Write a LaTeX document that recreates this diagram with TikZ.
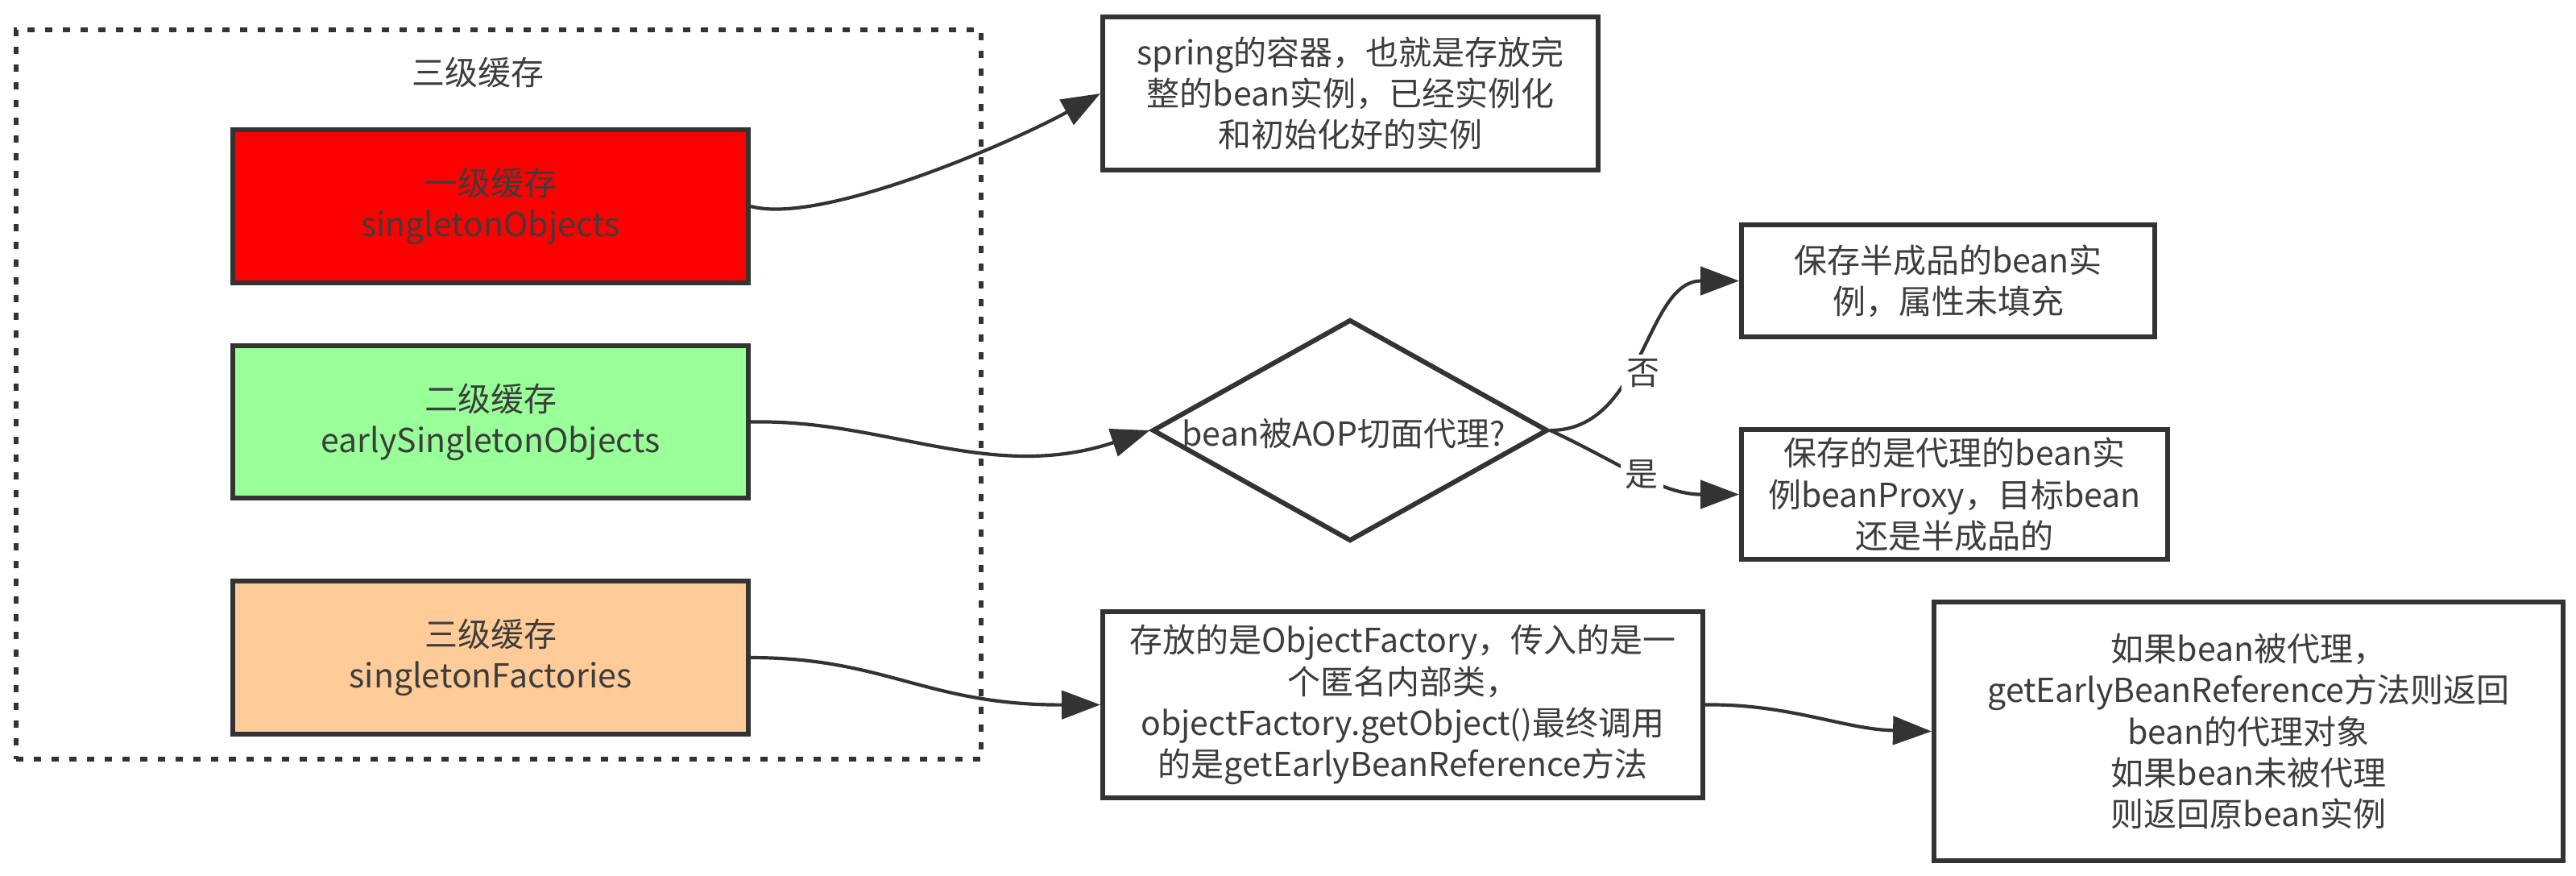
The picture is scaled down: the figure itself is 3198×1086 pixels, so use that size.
\documentclass[tikz,border=0pt]{standalone}
\usepackage{fontspec}
\setmainfont{Noto Sans CJK SC}
\usetikzlibrary{shapes.geometric,arrows.meta}
\definecolor{ink}{HTML}{333333}
\definecolor{tink}{HTML}{3d3d3d}
\definecolor{cred}{HTML}{FF0000}
\definecolor{cgreen}{HTML}{99FF99}
\definecolor{corange}{HTML}{FFCC99}
\tikzset{
  txt/.style={font=\fontsize{10.25}{12.8}\selectfont, text=tink, align=center},
  box/.style={txt, draw=ink, line width=1.5pt, rectangle, inner sep=0pt},
  conn/.style={draw=ink, line width=1.05pt, -{Triangle[length=12pt,width=8.8pt]}},
  lbl/.style={txt, fill=white, inner sep=1.5pt},
  container/.style={draw=ink, line width=1.3pt, dash pattern=on 2.2pt off 3.3pt, rectangle, inner sep=0pt}
}
\begin{document}
\begin{tikzpicture}[x=0.25pt,y=-0.25pt]
\fill[white] (0,0) rectangle (3198,1086);
\useasboundingbox (0,0) rectangle (3198,1086);

\node[container, minimum width=299.5pt, minimum height=226.25pt] (cont) at (619,489.5) {};
\node[txt] (title) at (593,90) {三级缓存};

\node[box, fill=cred, minimum width=160pt, minimum height=47.5pt] (red) at (609,256) {一级缓存\\singletonObjects};
\node[box, fill=cgreen, minimum width=160pt, minimum height=47.25pt] (green) at (609,523.5) {二级缓存\\earlySingletonObjects};
\node[box, fill=corange, minimum width=160pt, minimum height=47.5pt] (orange) at (609,816) {三级缓存\\singletonFactories};

\node[box, minimum width=153.75pt, minimum height=47.5pt] (spring) at (1676.5,116) {spring的容器，也就是存放完\\整的bean实例，已经实例化\\和初始化好的实例};

\node[draw=ink, line width=1.5pt, diamond, inner sep=0pt, minimum width=122.75pt, minimum height=68.75pt] (dia) at (1676,534) {};
\node[txt] (diatext) at (1668,538) {bean被AOP切面代理?};

\node[box, minimum width=128.25pt, minimum height=34.75pt] (b1) at (2418.5,348.5) {保存半成品的bean实\\例，属性未填充};
\node[box, minimum width=132.25pt, minimum height=40.25pt] (b2) at (2426.5,613.5) {保存的是代理的bean实\\例beanProxy，目标bean\\还是半成品的};

\node[box, minimum width=186.25pt, minimum height=57.75pt] (of) at (1741.5,874.5) {存放的是ObjectFactory，传入的是一\\个匿名内部类，\\objectFactory.getObject()最终调用\\的是getEarlyBeanReference方法};
\node[box, minimum width=195.25pt, minimum height=80.25pt] (fin) at (2791.5,907.5) {如果bean被代理，\\getEarlyBeanReference方法则返回\\bean的代理对象\\如果bean未被代理\\则返回原bean实例};

\draw[conn] (red.east) .. controls (1020,280) and (1260,175) .. (spring.west);
\draw[conn] (green.east) .. controls (1100,520) and (1230,600) .. (dia.west);
\draw[conn] (orange.east) .. controls (1100,816) and (1150,875) .. (of.west);
\draw[conn] (dia.east) to[out=0,in=180] node[lbl, pos=0.42, xshift=3pt] (no) {否} (b1.west);
\draw[conn] (dia.east) to[out=-25,in=180] node[lbl, pos=0.5] (yes) {是} (b2.west);
\draw[conn] (of.east) .. controls (2220,873) and (2290,905) .. (fin.west);
\end{tikzpicture}
\end{document}
